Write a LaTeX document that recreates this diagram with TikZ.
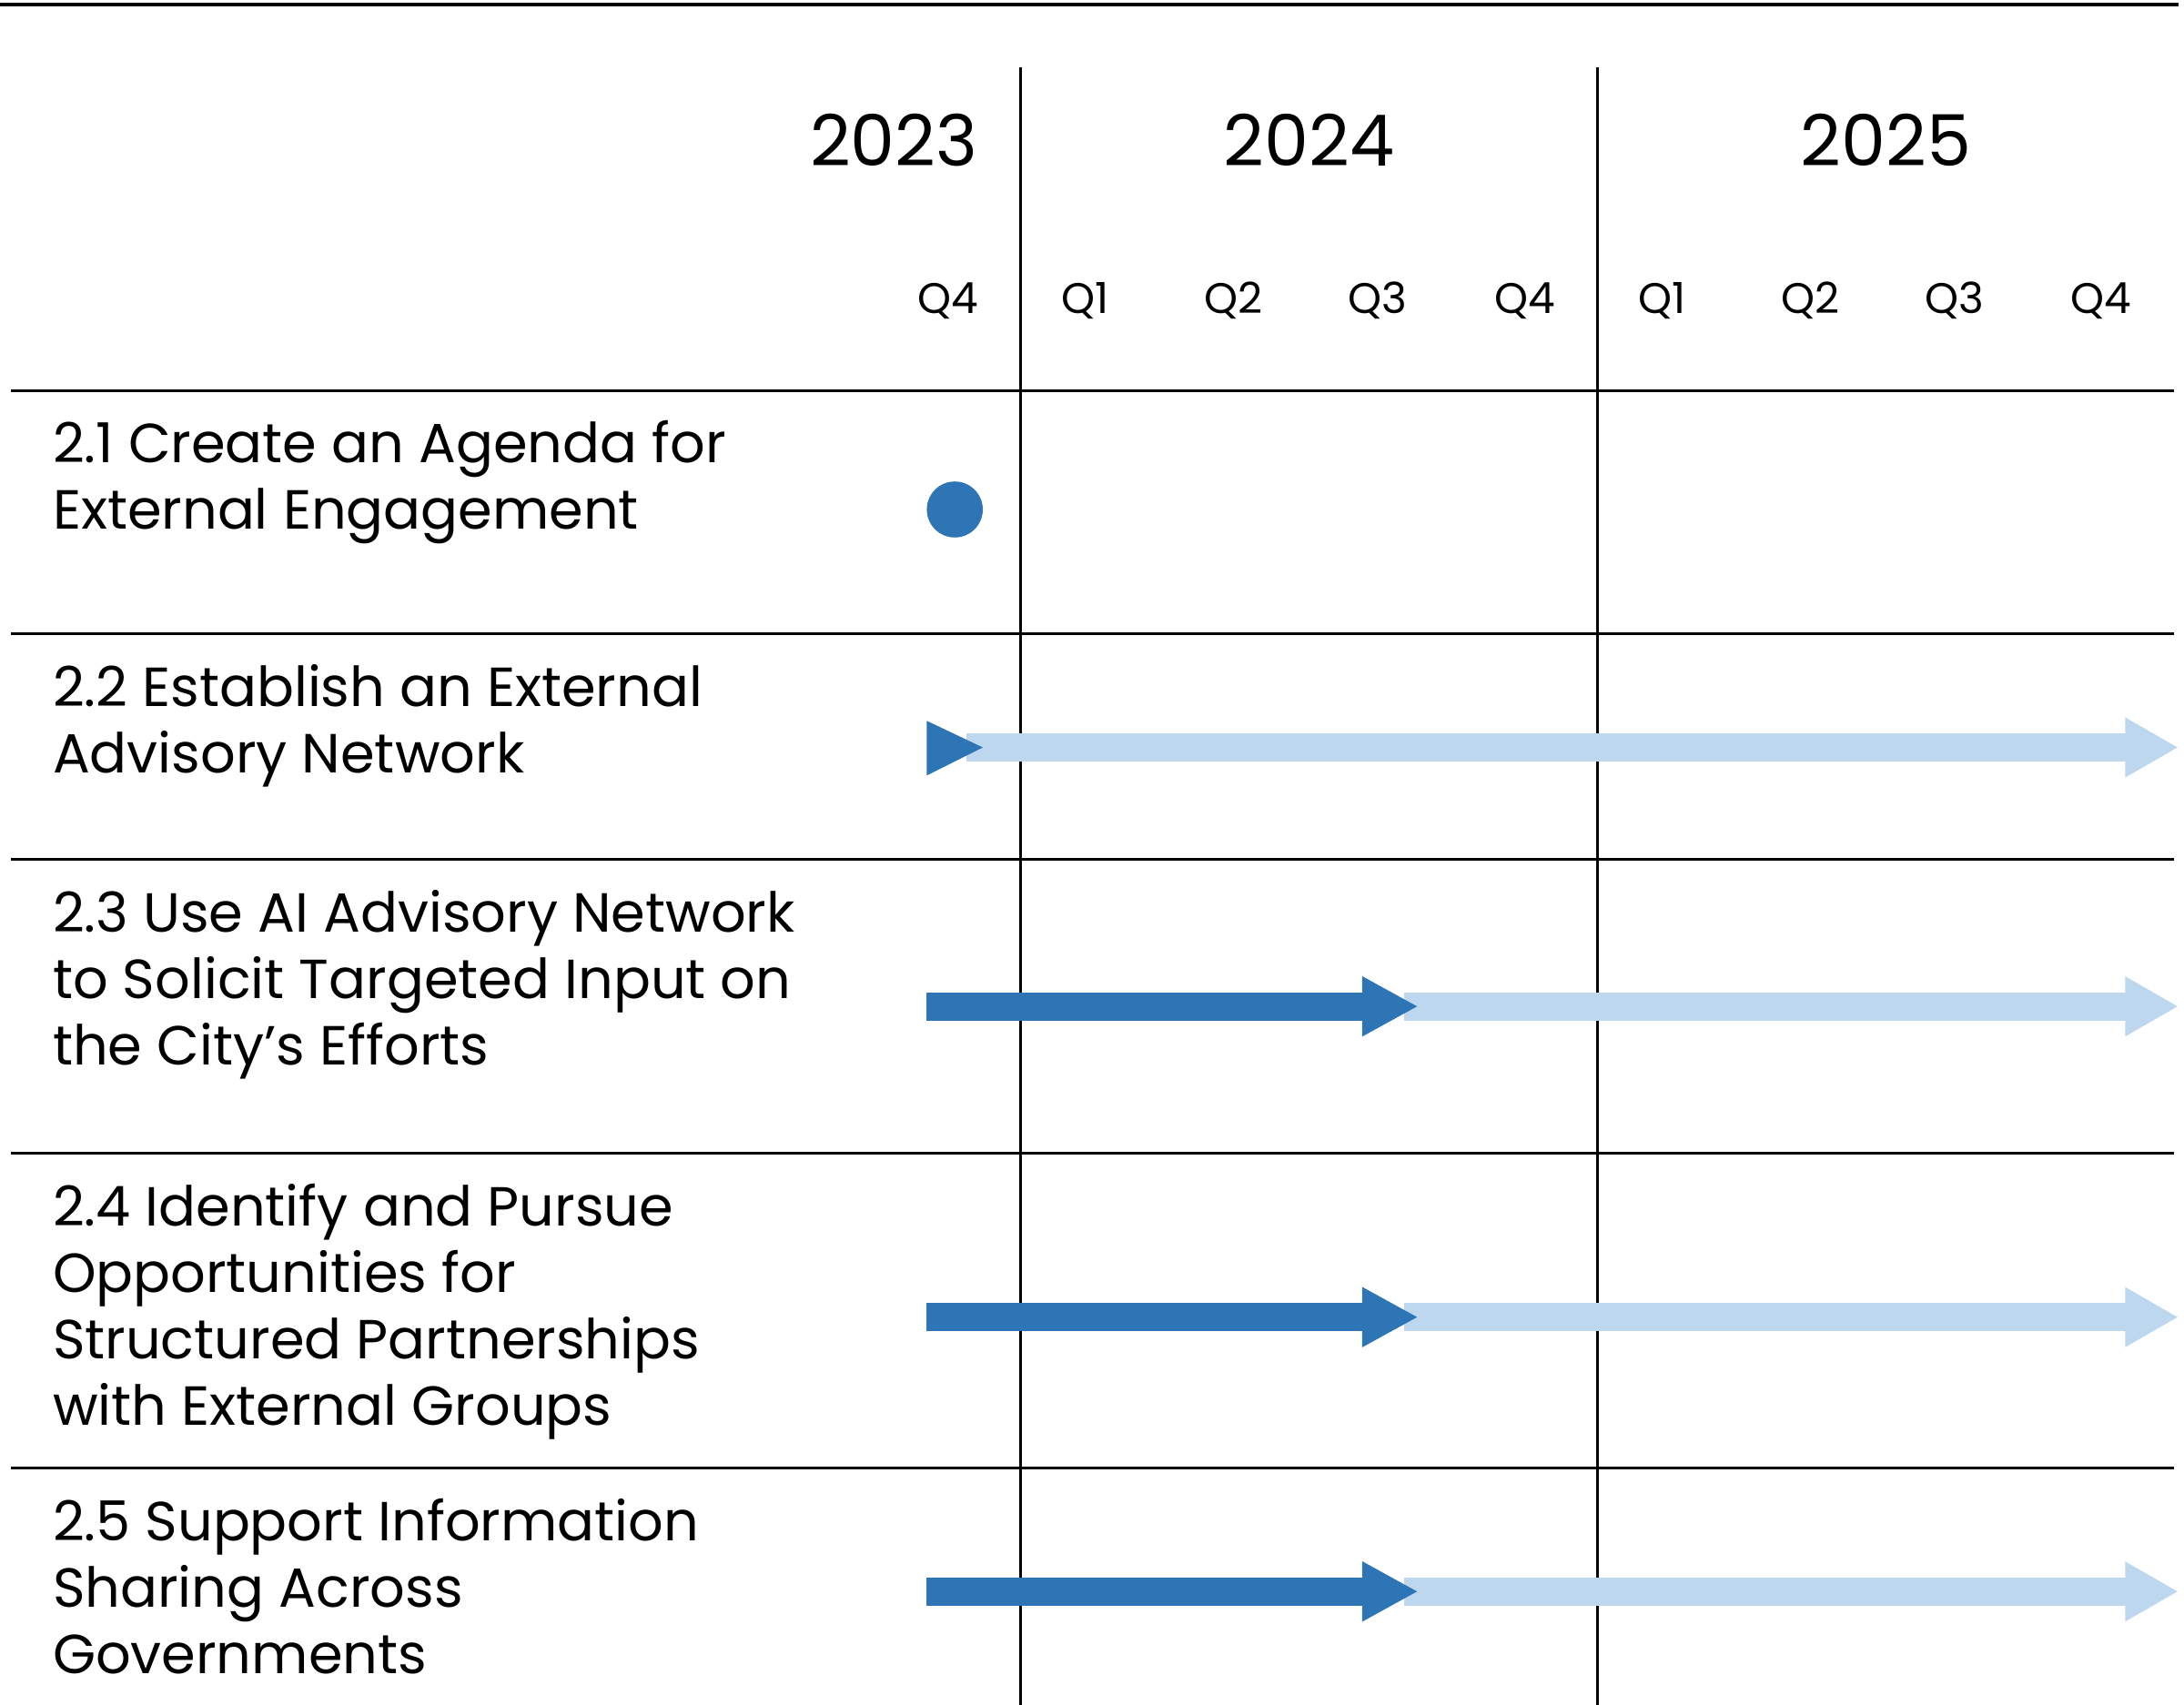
\documentclass[tikz,border=0pt]{standalone}
\usepackage{fontspec}
\setmainfont{Poppins}
\usetikzlibrary{arrows.meta}
\definecolor{darkblue}{HTML}{2E75B6}
\definecolor{lightblue}{HTML}{BDD7EE}
\begin{document}
\begin{tikzpicture}[x=0.1mm, y=-0.1mm,
	year/.style={font=\fontsize{14.4}{17}\selectfont, inner sep=0pt},
	quarter/.style={font=\fontsize{8.7}{10}\selectfont, inner sep=0pt},
	task/.style={font=\fontsize{11.2}{13.5}\selectfont, align=left, anchor=north west, inner sep=0pt},
	rule/.style={line width=0.55pt},
	done/.style={line width=2mm, darkblue, -{Triangle[length=4mm, width=4mm]}},
	todo/.style={line width=2mm, lightblue, -{Triangle[length=3.8mm, width=4mm]}}]
	\useasboundingbox (0,0) rectangle (1560,1218);
	\draw [line width=0.75pt] (0,3) -- (1556,3);
	\draw [rule] (8,279) -- (1553,279);
	\foreach \y in {453,614,824,1049}
		\draw [rule] (8,\y) -- (1553,\y);
	\draw [line width=0.45pt] (729,48) -- (729,1218);
	\draw [line width=0.45pt] (1141,48) -- (1141,1218);
	\node [year, anchor=east] (y23) at (699,100) {2023};
	\node [year] (y24) at (935,100) {2024};
	\node [year] (y25) at (1347,100) {2025};
	\foreach \x/\q [count=\i] in {677/Q4,775/Q1,881/Q2,984/Q3,1089/Q4,1187/Q1,1293/Q2,1396/Q3,1501/Q4}
		\node [quarter] (q\i) at (\x,215) {\q};
	\node [task] (t1) at (37,300) {2.1 Create an Agenda for\\External Engagement};
	\node [task] (t2) at (37,474) {2.2 Establish an External\\Advisory Network};
	\node [task] (t3) at (37,635) {2.3 Use AI Advisory Network\\to Solicit Targeted Input on\\the City’s Efforts};
	\node [task] (t4) at (37,845) {2.4 Identify and Pursue\\Opportunities for\\Structured Partnerships\\with External Groups};
	\node [task] (t5) at (37,1070) {2.5 Support Information\\Sharing Across\\Governments};
	\fill [darkblue] (682,364) circle (20);
	\coordinate (s2) at (690,534);
	\coordinate (e2) at (1556,534);
	\draw [todo] (s2) -- (e2);
	\fill [darkblue] (662,515) -- (702,534) -- (662,554) -- cycle;
	\foreach \y [count=\i from 3] in {719,941,1137} {
		\coordinate (a\i) at (662,\y);
		\coordinate (m\i) at (1013,\y);
		\coordinate (b\i) at (1556,\y);
		\draw [todo] (m\i) ++(-10,0) -- (b\i);
		\draw [done] (a\i) -- (m\i);
	}
\end{tikzpicture}
\end{document}
